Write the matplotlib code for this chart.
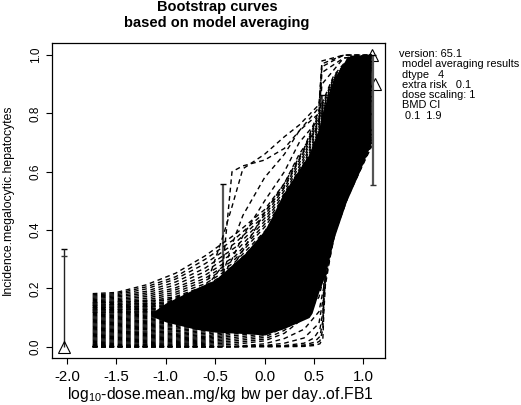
import matplotlib
matplotlib.use("Agg")
import matplotlib.pyplot as plt

plt.rcParams['font.family'] = ['Liberation Sans', 'DejaVu Sans']
plt.rcParams['mathtext.fontset'] = 'custom'
plt.rcParams['mathtext.rm'] = 'Liberation Sans'

doses = [-1.74, -1.5, -1.2, -0.9, -0.6, -0.3, 0.0, 0.2, 0.4, 0.55, 0.7, 0.85, 1.08]
curves = [
    [.182, .186, .212, .252, .312, .385, .470, .560, .680, .810, .930, .990, 1.0],
    [.178, .182, .205, .240, .300, .370, .460, .550, .675, .800, .925, .985, 1.0],
    [.174, .178, .198, .232, .285, .355, .450, .545, .670, .790, .920, .985, 1.0],
    [.170, .174, .190, .222, .270, .340, .440, .535, .660, .780, .915, .980, 1.0],
    [.166, .170, .184, .212, .258, .325, .430, .525, .650, .775, .910, .980, 1.0],
    [.162, .165, .178, .202, .246, .310, .420, .515, .640, .765, .905, .975, 1.0],
    [.158, .161, .172, .195, .235, .300, .410, .505, .630, .755, .900, .975, 1.0],
    [.154, .157, .166, .187, .226, .290, .395, .495, .620, .745, .895, .970, 1.0],
    [.150, .153, .160, .180, .216, .280, .385, .485, .610, .735, .890, .970, 1.0],
    [.146, .148, .155, .172, .208, .270, .375, .475, .600, .725, .885, .965, 1.0],
    [.142, .144, .150, .166, .200, .262, .365, .465, .590, .715, .880, .965, 1.0],
    [.138, .140, .145, .160, .192, .254, .355, .455, .580, .705, .870, .960, 1.0],
    [.134, .136, .141, .154, .185, .246, .345, .445, .570, .695, .865, .960, 1.0],
    [.130, .132, .137, .149, .178, .238, .335, .435, .560, .685, .860, .955, 1.0],
    [.126, .128, .133, .144, .172, .230, .325, .425, .550, .675, .850, .950, 1.0],
    [.122, .124, .128, .139, .166, .222, .315, .415, .540, .665, .840, .945, 1.0],
    [.118, .120, .124, .134, .160, .215, .305, .405, .530, .655, .830, .940, .995],
    [.114, .116, .120, .130, .154, .208, .295, .395, .520, .645, .820, .935, .995],
    [.110, .112, .116, .125, .148, .200, .285, .385, .510, .635, .810, .930, .990],
    [.106, .108, .112, .121, .142, .193, .275, .375, .500, .625, .800, .925, .990],
    [.102, .104, .108, .116, .136, .186, .265, .365, .490, .615, .790, .915, .985],
    [.098, .100, .104, .112, .131, .179, .255, .355, .480, .605, .780, .910, .985],
    [.094, .096, .100, .108, .126, .172, .245, .345, .470, .595, .770, .900, .980],
    [.090, .092, .096, .103, .121, .165, .235, .335, .460, .585, .760, .895, .980],
    [.086, .088, .091, .099, .116, .158, .225, .325, .450, .575, .750, .885, .975],
    [.082, .084, .087, .095, .111, .151, .215, .315, .440, .565, .740, .875, .970],
    [.078, .080, .083, .090, .106, .144, .205, .305, .430, .555, .730, .865, .965],
    [.074, .076, .079, .086, .101, .137, .195, .295, .420, .545, .720, .855, .960],
    [.070, .072, .075, .082, .096, .130, .185, .285, .410, .535, .710, .845, .955],
    [.066, .068, .071, .077, .091, .123, .175, .272, .395, .520, .700, .835, .950],
    [.062, .064, .067, .073, .086, .116, .165, .260, .380, .505, .685, .825, .945],
    [.058, .060, .063, .069, .081, .110, .155, .248, .365, .490, .670, .815, .940],
    [.054, .056, .059, .064, .076, .104, .145, .236, .350, .475, .655, .805, .935],
    [.050, .052, .054, .060, .071, .098, .135, .224, .335, .460, .640, .795, .930],
    [.046, .048, .050, .055, .066, .092, .125, .212, .320, .445, .625, .785, .925],
    [.042, .044, .046, .051, .061, .086, .115, .200, .305, .430, .610, .770, .915],
    [.038, .040, .042, .046, .056, .080, .105, .188, .290, .415, .595, .755, .905],
    [.034, .036, .038, .042, .051, .074, .095, .176, .275, .400, .580, .740, .895],
    [.030, .032, .034, .038, .046, .068, .088, .164, .260, .385, .565, .725, .885],
    [.026, .028, .030, .034, .041, .062, .080, .152, .245, .370, .550, .710, .875],
    [.022, .024, .026, .030, .036, .056, .072, .140, .230, .355, .535, .695, .860],
    [.018, .020, .022, .026, .032, .050, .064, .128, .215, .340, .515, .680, .845],
    [.014, .016, .018, .022, .028, .044, .056, .116, .200, .320, .495, .660, .825],
    [.010, .012, .014, .018, .024, .038, .050, .104, .185, .300, .475, .640, .800],
    [.007, .008, .010, .014, .020, .032, .044, .092, .170, .280, .450, .615, .775],
    [.004, .005, .007, .010, .016, .026, .038, .080, .150, .255, .430, .585, .745],
    [.002, .003, .004, .007, .012, .020, .032, .068, .130, .230, .410, .560, .715],
    [.001, .001, .002, .004, .008, .014, .026, .056, .115, .200, .395, .535, .700],
    [.000, .000, .001, .002, .004, .008, .020, .046, .100, .170, .385, .525, .690],
    [.000, .000, .000, .000, .000, .001, .010, .028, .060, .120, .380, .520, .690],
    [.000, .000, .000, .000, .000, .000, .004, .012, .030, .080, .380, .520, .685],
]

outlier_doses = [-1.74, -1.0, -0.6, -0.42, -0.33, -0.22, 0.0, 0.2, 0.35, 0.55, 0.58, 0.8, 1.08]
outliers = [
    [.150, .16, .20, .28, .60, .62, .64, .68, .74, .82, .96, 1.0, 1.0],
    [.142, .15, .20, .38, .48, .61, .66, .72, .76, .83, .97, 1.0, 1.0],
    [.134, .14, .18, .25, .35, .45, .58, .66, .74, .80, .98, 1.0, 1.0],
    [.126, .13, .17, .24, .30, .38, .50, .60, .70, .78, .94, .99, 1.0],
    [.118, .12, .16, .21, .27, .33, .46, .56, .66, .76, .90, .99, 1.0],
]

step_doses = [-1.74, -0.5, 0.2, 0.4, 0.5, 0.56, 0.59, 0.6, 0.62, 0.72, 0.85, 1.08]
step_curves = [
    [.000, .000, .000, .001, .004, .010, .030, .120, .240, .400, .540, .700],
    [.000, .000, .001, .003, .008, .020, .060, .150, .260, .410, .550, .710],
    [.000, .000, .002, .006, .015, .035, .090, .180, .280, .420, .560, .720],
    [.000, .000, .004, .012, .030, .060, .120, .220, .300, .430, .570, .730],
]

mass_x = [-1.15, -1.0, -0.7, -0.5, -0.2, 0.0, 0.08, 0.18, 0.35, 0.45, 0.48, 0.55, 0.58, 0.6, 0.68, 0.71, 0.83, 0.87, 0.96, 1.08]
mass_low = [.105, .085, .060, .050, .045, .040, .050, .060, .085, .100, .115, .190, .215, .236, .340, .380, .500, .530, .600, .700]
mass_high = [.115, .150, .200, .230, .320, .400, .450, .520, .610, .660, .690, .750, .800, .820, .900, .925, .990, 1.00, 1.00, 1.00]

bar_x = [-2.03, -0.42, 0.58, 1.10]
bar_low = [0.0, 0.0, 0.62, 0.554]
bar_high = [0.336, 0.558, 0.863, 1.0]
bar_mid = [0.31, 0.30, 0.78, 0.69]
tri_x = [-2.03, 1.09, 1.12]
tri_y = [0.0, 1.0, 0.90]
x_ticks = [-2.0, -1.5, -1.0, -0.5, 0.0, 0.5, 1.0]
y_ticks = [0.0, 0.2, 0.4, 0.6, 0.8, 1.0]
note_lines = ["version: 65.1", " model averaging results", " dtype   4", " extra risk   0.1",
              " dose scaling: 1", " BMD CI", "  0.1  1.9"]

W, H = 521, 405
fig = plt.figure(figsize=(W / 100, H / 100), dpi=100)
ax = fig.add_axes([52 / W, 1 - 358 / H, (385 - 52) / W, (358 - 43) / H])
x0 = -2.0 - (67 - 52) / 98.8
ax.set_xlim(x0, x0 + 333 / 98.8)
ax.set_ylim(-11.3 / 291.6, (346.7 - 43) / 291.6)

dash = (0, (3.4, 2.6))
ax.plot(tri_x[1:], tri_y[1:], ls='none', marker='^', ms=8.5, mfc='none', mec='black', mew=0.8, zorder=1, clip_on=False)
ax.vlines(bar_x[1:], bar_low[1:], bar_high[1:], color='#555555', lw=1.6, zorder=1)
ax.fill_between(mass_x, mass_low, mass_high, color='black', lw=0, zorder=2)
for c in curves:
    ax.plot(doses, c, color='black', lw=1.0, ls=dash, zorder=2)
for c in outliers:
    ax.plot(outlier_doses, c, color='black', lw=1.0, ls=dash, zorder=2)
for c in step_curves:
    ax.plot(step_doses, c, color='black', lw=1.0, ls=dash, zorder=2)

ax.vlines(bar_x[:1], bar_low[:1], bar_high[:1], color='#222222', lw=1.0, zorder=4)
ax.plot(bar_x, bar_high, ls='none', marker='_', ms=4, color='black', zorder=1)
ax.plot(bar_x[:1], bar_mid[:1], ls='none', marker='_', ms=4, color='#333333', zorder=5)
ax.plot(bar_x[3:], bar_low[3:], ls='none', marker='_', ms=4, color='#333333', zorder=5)
ax.plot(tri_x[:1], tri_y[:1], ls='none', marker='^', ms=8.5, mfc='none', mec='black', mew=0.8, zorder=6)

ax.set_xticks(x_ticks)
ax.set_xticklabels([f"{t:.1f}" for t in x_ticks], fontsize=10.8)
ax.set_yticks(y_ticks)
ax.set_yticklabels([f"{t:.1f}" for t in y_ticks], fontsize=8.5, rotation=90, va='center')
ax.tick_params(axis='x', length=4.5, width=0.8, pad=4)
ax.tick_params(axis='y', length=4.5, width=0.8, pad=3)
for s in ax.spines.values():
    s.set_linewidth(0.9)

fig.text(220 / W, 1 - 399 / H, r"log$_{10}$-dose.mean..mg/kg bw per day..of.FB1",
         ha='center', va='baseline', fontsize=11.3)
fig.text(8 / W, 1 - 200 / H, "Incidence.megalocytic.hepatocytes", rotation=90,
         ha='center', va='center', fontsize=8.8)
fig.text(217 / W, 1 - 11.5 / H, "Bootstrap curves", ha='center', va='baseline',
         fontsize=10.5, fontweight='bold')
fig.text(217 / W, 1 - 27 / H, "based on model averaging", ha='center', va='baseline',
         fontsize=10.5, fontweight='bold')
for i, line in enumerate(note_lines):
    fig.text(399 / W, 1 - (54 + i * 10.3) / H, line, ha='left', va='center', fontsize=7.9)

fig.savefig("out.png", dpi=100)
